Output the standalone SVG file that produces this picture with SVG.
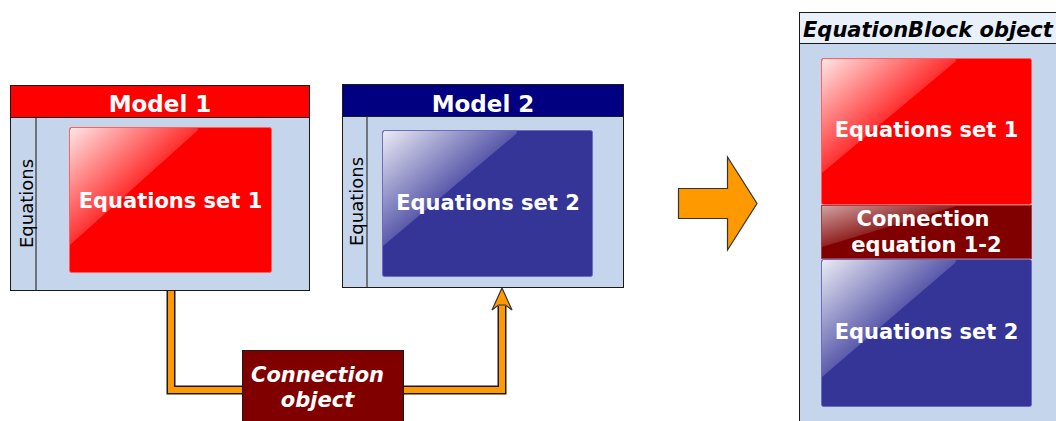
<svg xmlns="http://www.w3.org/2000/svg" width="1056" height="421" viewBox="0 0 1056 421">
<defs>
<linearGradient id="gloss" x1="0" y1="0" x2="0.55" y2="0.55">
<stop offset="0" stop-color="#fff" stop-opacity="0.9"/>
<stop offset="1" stop-color="#fff" stop-opacity="0.12"/>
</linearGradient>
</defs>
<style>
.panel{fill:#c5d6ec;stroke:#1a1a1a;stroke-width:1}
.sep{stroke:#333;stroke-width:1.2}
.red{fill:#ff0000;stroke:#ff6060;stroke-width:1}
.blue{fill:#353598;stroke:#6b6bc0;stroke-width:1}
.dred{fill:#800000;stroke:#a04040;stroke-width:1}
.gloss{fill:url(#gloss)}
.t{font-family:"DejaVu Sans",Verdana,sans-serif;font-weight:bold;fill:#fff;text-anchor:middle}
.side{font-family:"DejaVu Sans",Verdana,sans-serif;font-size:18px;fill:#000;text-anchor:middle}
.wire-o{fill:none;stroke:#1a1a1a;stroke-width:9}
.wire-i{fill:none;stroke:#ff9900;stroke-width:6}
.orange{fill:#ff9900;stroke:#333;stroke-width:1.2;stroke-linejoin:miter}
</style>

<g id="connectors">
<path class="wire-o" d="M171,291 V390 H250"/>
<path class="wire-o" d="M396,390 H502 V306"/>
<path class="wire-i" d="M171,291 V390 H250"/>
<path class="wire-i" d="M396,390 H502 V304"/>
<polygon class="orange" points="502,288 512,310 505.5,305 498.5,305 492,310"/>
</g>

<g id="model1">
<rect class="panel" x="10.5" y="85.5" width="299" height="205"/>
<rect x="10.5" y="85.5" width="299" height="32" fill="#ff0000" stroke="#1a1a1a"/>
<line class="sep" x1="36" y1="117.5" x2="36" y2="290"/>
<text class="side" transform="translate(33,203.5) rotate(-90)">Equations</text>
<text class="t" x="160" y="112" font-size="23">Model 1</text>
<g id="set1a">
<rect class="red" x="69.5" y="127.5" width="202" height="145" rx="2"/>
<path class="gloss" d="M71,128 H197 Q199,128 197,131 L70,245 V130 Z"/>
<text class="t" x="170.5" y="208" font-size="21">Equations set 1</text>
</g>
</g>

<g id="model2">
<rect class="panel" x="342.5" y="84.5" width="281" height="203"/>
<rect x="342.5" y="84.5" width="281" height="32" fill="#000080" stroke="#1a1a1a"/>
<line class="sep" x1="367" y1="116.5" x2="367" y2="287"/>
<text class="side" transform="translate(363,201.5) rotate(-90)">Equations</text>
<text class="t" x="483" y="112" font-size="23">Model 2</text>
<g id="set2a">
<rect class="blue" x="382.5" y="130.5" width="210" height="146" rx="2"/>
<path class="gloss" d="M384,131 H516 Q518,131 516,134 L383,246 V133 Z"/>
<text class="t" x="488" y="210" font-size="21">Equations set 2</text>
</g>
</g>

<g id="connection-object">
<rect x="242.5" y="350.5" width="161" height="80" fill="#800000" stroke="#1a1a1a"/>
<text class="t" x="317.5" y="382" font-size="21" font-style="italic">Connection</text>
<text class="t" x="317.5" y="407" font-size="21" font-style="italic">object</text>
</g>

<g id="big-arrow">
<polygon class="orange" points="678.5,188.5 727.5,188.5 727.5,157 757,203.5 727.5,250 727.5,218.5 678.5,218.5"/>
</g>

<g id="equationblock">
<rect class="panel" x="799.5" y="12.5" width="270" height="420"/>
<rect x="799.5" y="12.5" width="270" height="31" fill="#e8f0fb" stroke="#1a1a1a"/>
<text x="803" y="37" font-family="DejaVu Sans,Verdana,sans-serif" font-size="21" font-weight="bold" font-style="italic" fill="#000">EquationBlock object</text>
<g id="set1b">
<rect class="red" x="821.5" y="58.5" width="210" height="146" rx="2"/>
<path class="gloss" d="M823,59 H955 Q957,59 955,62 L822,173 V61 Z"/>
<text class="t" x="926.5" y="137" font-size="21">Equations set 1</text>
</g>
<g id="conn12">
<rect class="dred" x="821.5" y="205.5" width="210" height="53"/>
<path class="gloss" d="M822,206 H957 L822,247 Z" opacity="0.7"/>
<text class="t" x="923" y="226" font-size="21">Connection</text>
<text class="t" x="926.5" y="252" font-size="21">equation 1-2</text>
</g>
<g id="set2b">
<rect class="blue" x="821.5" y="259.5" width="210" height="147" rx="2"/>
<path class="gloss" d="M823,260 H955 Q957,260 955,263 L822,377 V262 Z"/>
<text class="t" x="926.5" y="339" font-size="21">Equations set 2</text>
</g>
</g>
</svg>
